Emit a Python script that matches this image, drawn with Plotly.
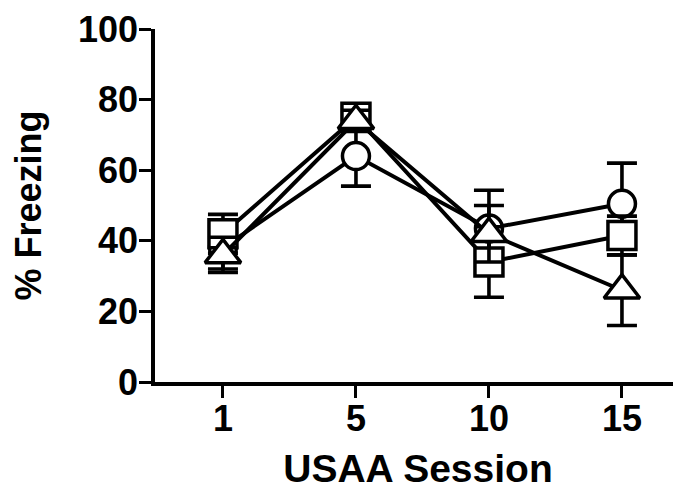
import plotly.graph_objects as go

sessions = ["1", "5", "10", "15"]
x_pos = [0, 1, 2, 3]

circle_vals = [38, 64, 43.5, 50.5]
circle_err = [6, 8.5, 10.8, 11.5]
square_vals = [42, 75, 34, 41.5]
square_err = [5.5, 3, 10, 5.5]
triangle_vals = [36, 74, 42, 26]
triangle_err = [5, 3, 8, 10]

y_ticks = [0, 20, 40, 60, 80, 100]

FONT = "Arial, 'Liberation Sans', sans-serif"

fig = go.Figure()

def add(vals, err, symbol, size):
    fig.add_trace(go.Scatter(
        x=x_pos, y=vals, mode="lines+markers",
        line=dict(color="black", width=4),
        marker=dict(symbol=symbol, size=size, color="white",
                    line=dict(color="black", width=3.5)),
        error_y=dict(type="data", array=err, visible=True,
                     color="black", thickness=3.6, width=15),
        showlegend=False,
    ))

add(circle_vals, circle_err, "circle", 27)
add(square_vals, square_err, "square", 28)
add(triangle_vals, triangle_err, "triangle-up", 31)

# page body has an 8px margin, so the figure is offset by 8px
fig.update_layout(
    width=673, height=485,
    margin=dict(l=147, r=0, t=21, b=111),
    paper_bgcolor="white", plot_bgcolor="white",
    font=dict(family=FONT, color="black"),
    xaxis=dict(
        range=[-0.511, 3.444], tickvals=x_pos, ticktext=sessions,
        automargin=False,
        showgrid=False, zeroline=False,
        showline=True, linecolor="black", linewidth=3.5,
        ticks="outside", ticklen=12, tickwidth=3, tickcolor="black",
        ticklabelstandoff=-10,
        tickfont=dict(size=36, family=FONT, weight="bold"),
        title=dict(text="USAA Session", standoff=18,
                   font=dict(size=39, family=FONT, weight="bold")),
    ),
    yaxis=dict(
        range=[0, 100], tickvals=y_ticks,
        automargin=False,
        showgrid=False, zeroline=False,
        showline=True, linecolor="black", linewidth=3.5,
        ticks="outside", ticklen=12, tickwidth=3, tickcolor="black",
        ticklabelstandoff=-6,
        tickfont=dict(size=36, family=FONT, weight="bold"),
        title=dict(text="% Freezing", standoff=34,
                   font=dict(size=36, family=FONT, weight="bold")),
    ),
)

fig.write_html("out.html")
